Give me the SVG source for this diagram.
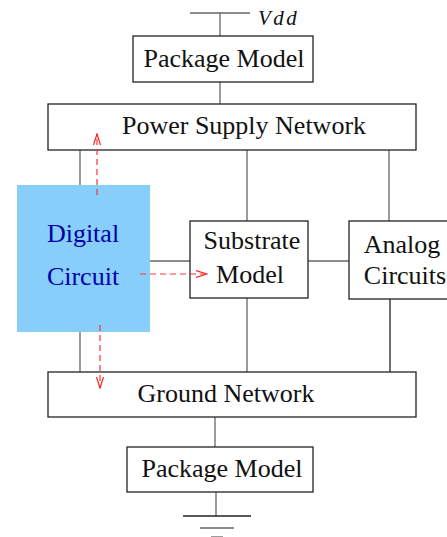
<svg xmlns="http://www.w3.org/2000/svg" width="447" height="537" viewBox="0 0 447 537">
<defs>
<style>
.box{fill:#fff;stroke:#222;stroke-width:1.3}
.t{font-family:"Liberation Serif","Times New Roman",Times,serif;font-size:26px;fill:#111;text-anchor:middle}
.w{stroke:#666;stroke-width:1.3;fill:none}
.k{stroke:#222;stroke-width:1.3;fill:none}
.r{stroke:#f33;stroke-width:1.2;stroke-dasharray:6,4;fill:none}
</style>
<marker id="ah" markerWidth="12" markerHeight="10" refX="11" refY="5" orient="auto" markerUnits="userSpaceOnUse">
<path d="M0,1.5 L11,5 L0,8.5" fill="none" stroke="#f22" stroke-width="1.2"/>
</marker>
</defs>
<rect width="447" height="537" fill="#fff"/>
<g id="connectors">
<line class="w" x1="190" y1="13" x2="250" y2="13"/>
<line class="w" x1="220" y1="13" x2="220" y2="36"/>
<line class="w" x1="220" y1="82" x2="220" y2="104"/>
<line class="w" x1="80" y1="150" x2="80" y2="185"/>
<line class="w" x1="247" y1="150" x2="247" y2="221"/>
<line class="w" x1="389" y1="150" x2="389" y2="221"/>
<line class="w" x1="150" y1="261" x2="190" y2="261"/>
<line class="w" x1="308" y1="261" x2="349" y2="261"/>
<line class="w" x1="80" y1="332" x2="80" y2="372"/>
<line class="w" x1="247" y1="298" x2="247" y2="372"/>
<line class="k" x1="390" y1="299" x2="390" y2="372"/>
<line class="w" x1="215" y1="417" x2="215" y2="447"/>
<line class="w" x1="216" y1="492" x2="216" y2="516"/>
<line class="k" x1="183" y1="516" x2="251" y2="516"/>
<line class="w" x1="200" y1="528" x2="234" y2="528"/>
<line class="w" x1="211" y1="537" x2="223" y2="537"/>
</g>
<text x="258" y="25" font-family="'Liberation Serif','Times New Roman',serif" font-style="italic" font-size="21" letter-spacing="2.5" fill="#111">Vdd</text>
<g id="pkg-top">
<rect class="box" x="133" y="36" width="180" height="46"/>
<text class="t" x="224" y="67">Package Model</text>
</g>
<g id="power">
<rect class="box" x="48" y="104" width="368" height="46"/>
<text class="t" x="244" y="134">Power Supply Network</text>
</g>
<g id="digital">
<rect x="17" y="185" width="133" height="147" fill="#87cefa"/>
<text class="t" x="83" y="242" style="fill:#0000aa">Digital</text>
<text class="t" x="83" y="285" style="fill:#0000aa">Circuit</text>
</g>
<g id="substrate">
<rect class="box" x="190" y="221" width="118" height="77"/>
<text class="t" x="252" y="249">Substrate</text>
<text class="t" x="250" y="283">Model</text>
</g>
<g id="analog">
<rect class="box" x="349" y="221" width="110" height="78"/>
<text class="t" x="402" y="253">Analog</text>
<text class="t" x="405" y="284">Circuits</text>
</g>
<g id="ground">
<rect class="box" x="48" y="372" width="368" height="45"/>
<text class="t" x="226" y="402">Ground Network</text>
</g>
<g id="pkg-bottom">
<rect class="box" x="127" y="447" width="186" height="45"/>
<text class="t" x="222" y="477">Package Model</text>
</g>
<g id="coupling">
<line class="r" x1="97" y1="195" x2="97" y2="134" marker-end="url(#ah)"/>
<line class="r" x1="140" y1="274" x2="207" y2="274" marker-end="url(#ah)"/>
<line class="r" x1="100" y1="325" x2="100" y2="388" marker-end="url(#ah)"/>
</g>
</svg>
